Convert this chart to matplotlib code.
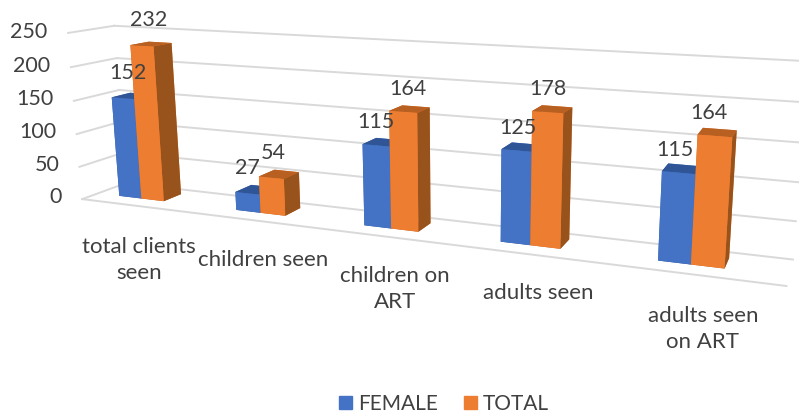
import numpy as np
import matplotlib
matplotlib.use("Agg")
import matplotlib.pyplot as plt
from matplotlib.patches import Rectangle

plt.rcParams['font.family'] = ['Lato', 'DejaVu Sans']

categories = ["total clients\nseen", "children seen", "children on\nART", "adults seen", "adults seen\non ART"]
female = [152, 27, 115, 125, 115]
total = [232, 54, 164, 178, 164]
yticks = [0, 50, 100, 150, 200, 250]

TXT = "#404040"
BLUE_FACES = ["#2F5597", "#2F5597", "#4472C4", "#4472C4", "#3A62A8", "#2F5597"]
ORANGE_FACES = ["#B85F22", "#B85F22", "#ED7D31", "#ED7D31", "#C96A28", "#98521B"]
GRID = "#D9D9D9"
W, H = 799, 417

# camera calibration: scene point (category, depth, value) -> picture pixel
corners = [((0, 0, 0), (85, 198)), ((0, 0, 250), (68, 33)), ((0, 1, 250), (117, 24)), ((0, 1, 0), (125, 186)),
           ((5, 1, 0), (794, 257)), ((5, 1, 250), (808, 62)), ((5, 0, 0), (790, 287))]
anchors = [((0.44, .35, 0), (143, 198)), ((1.44, .35, 0), (260, 212)), ((3.44, .35, 0), (531, 245)),
           ((4.44, .35, 0), (688, 264)), ((0.44, .35, 232), (130, 46)), ((3.44, .35, 178), (533, 113)),
           ((4.44, .35, 164), (696, 138))]
cal = corners * 3 + anchors
S = np.diag([1 / 5, 1, 1 / 250, 1])
A = []
for (sx, sy, sz), (px, py) in cal:
    X = [sx / 5, sy, sz / 250, 1]
    px, py = px / W, py / H
    A.append(X + [0, 0, 0, 0] + [-px * v for v in X])
    A.append([0, 0, 0, 0] + X + [-py * v for v in X])
P = np.linalg.svd(np.array(A))[2][-1].reshape(3, 4)
if P[2, 3] < 0:
    P = -P
P = P @ S


def to_fig(x, y, z):
    u, v, w = P @ np.array([x, y, z, 1.0])
    return (u / w), 1 - (v / w)


fig = plt.figure(figsize=(W / 100, H / 100), dpi=100)
ax = fig.add_axes([0, 0, 1, 1], projection="3d", computed_zorder=False)
ax.apply_aspect = lambda position=None: None
ax.set_position([0, 0, 1, 1])
ax.set_axis_off()

inv = ax.transData.inverted()
(v0x, v0y), (v1x, v1y) = inv.transform([(0, H), (W, 0)])   # pixels (0,0) and (W,H)
N = np.array([[(v1x - v0x) , 0, v0x], [0, (v1y - v0y), v0y], [0, 0, 1]])
PN = N @ P
M = np.vstack([PN[0], PN[1], [0, 0, 0, -1], PN[2]])
ax.get_proj = lambda: M

for t in yticks:
    ax.plot([0, 5], [1, 1], [t, t], color=GRID, lw=1.4, zorder=1)
    ax.plot([0, 0], [0, 1], [t, t], color=GRID, lw=1.4, zorder=1)
    fx, fy = to_fig(-0.185, 0, t)
    fig.text(fx, fy, str(t), ha="right", va="center", fontsize=15.5, color=TXT)
ax.plot([0, 5], [0, 0], [0, 0], color=GRID, lw=1.4, zorder=1)

BAR_W, BAR_D, Y0 = 0.2, 0.42, 0.35
bar_x = [0.195, 1.215, 2.23, 3.21, 4.23]
blue_dx = [.355, .322, .33, .317, .304]
blue_dz = [38, 38, 32, 29, 28]
orange_dx = [.567, .536, .566, .508, .491]
orange_dz = [38, 36, 31, 29, 27]
for i, (f, tv) in enumerate(zip(female, total)):
    ax.bar3d(bar_x[i], Y0, 0, BAR_W, BAR_D, f, color=BLUE_FACES, shade=False, linewidth=0, zorder=2 + i)
    ax.bar3d(bar_x[i] + BAR_W, Y0, 0, BAR_W, BAR_D, tv, color=ORANGE_FACES, shade=False, linewidth=0, zorder=2.5 + i)
    fx, fy = to_fig(i + blue_dx[i], Y0, f + blue_dz[i])
    fig.text(fx, fy, str(f), ha="center", va="center", fontsize=15.5, color=TXT)
    fx, fy = to_fig(i + orange_dx[i], Y0, tv + orange_dz[i])
    fig.text(fx, fy, str(tv), ha="center", va="center", fontsize=15.5, color=TXT)

cat_pos = [(139, 260), (263, 260), (395, 289), (538, 293), (703, 329)]
for lab, (px, py) in zip(categories, cat_pos):
    fig.text(px / W, 1 - py / H, lab, ha="center", va="center", fontsize=16, color=TXT, linespacing=1.35)

fig.legend(handles=[Rectangle((0, 0), 1, 1, color="#4472C4"), Rectangle((0, 0), 1, 1, color="#ED7D31")],
           labels=["FEMALE", "TOTAL"], loc="center", ncol=2, frameon=False, fontsize=15,
           bbox_to_anchor=(0.556, 0.031), handlelength=0.62, handleheight=0.62, columnspacing=1.25, handletextpad=0.29,
           labelcolor=TXT, borderpad=0, borderaxespad=0)
fig.savefig("out.png", dpi=100)
